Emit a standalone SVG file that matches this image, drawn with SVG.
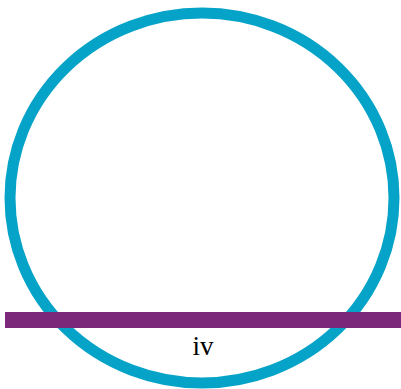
<svg xmlns="http://www.w3.org/2000/svg" width="401" height="389" viewBox="0 0 401 389">
<style>
.ring{fill:none;stroke:#05a3c7;stroke-width:11}
.bar{fill:#7b287a}
.lbl{font-family:"Liberation Serif",serif;font-size:27px;fill:#000;text-anchor:middle}
</style>
<rect width="401" height="389" fill="#fff"/>
<g id="circle"><ellipse class="ring" cx="202" cy="198" rx="192" ry="185"/></g>
<g id="line"><rect class="bar" x="5" y="312" width="396" height="16"/></g>
<g id="label"><text class="lbl" x="203" y="355">iv</text></g>
</svg>
